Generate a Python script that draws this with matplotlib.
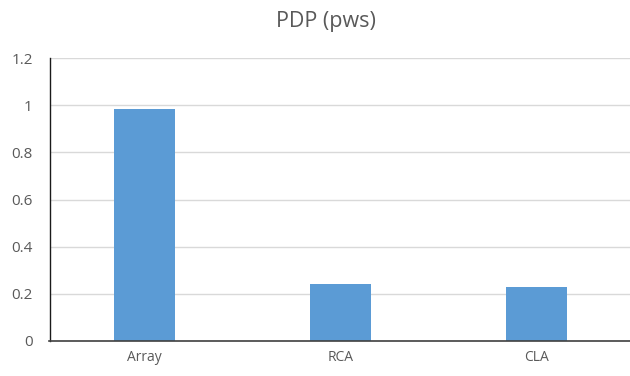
import matplotlib
matplotlib.use("Agg")
import matplotlib.pyplot as plt

categories = ["Array", "RCA", "CLA"]
values = [0.985, 0.24, 0.23]
y_ticks = [0, 0.2, 0.4, 0.6, 0.8, 1.0, 1.2]
y_tick_labels = ["0", "0.2", "0.4", "0.6", "0.8", "1", "1.2"]
title = "PDP (pws)"

plt.rcParams["font.family"] = ["Open Sans", "DejaVu Sans"]

fig = plt.figure(figsize=(6.3, 3.76), dpi=100)
ax = fig.add_axes([49.5 / 630, 35 / 376, 1 - 49.5 / 630, 283 / 376])

x = list(range(len(categories)))
ax.bar(x, values, width=0.31, color="#5B9BD5", zorder=3)

ax.set_xlim(-0.4847, 2.477)
ax.set_ylim(0, 1.2)
ax.set_yticks(y_ticks)
ax.set_yticklabels(y_tick_labels)
ax.set_xticks(x)
ax.set_xticklabels(categories)

ax.grid(axis="y", color="#D9D9D9", linewidth=1.0, zorder=0)
ax.tick_params(axis="y", length=0, pad=12, labelsize=11, labelcolor="#595959")
ax.tick_params(axis="x", length=0, pad=6.5, labelsize=10, labelcolor="#595959")

for side in ("top", "right"):
    ax.spines[side].set_visible(False)
ax.spines["left"].set_color("#1a1a1a")
ax.spines["left"].set_linewidth(1.0)
ax.spines["bottom"].set_color("#404040")
ax.spines["bottom"].set_linewidth(1.2)
ax.spines["bottom"].set_zorder(4)

fig.text(326 / 630, 1 - 22 / 376, title, ha="center", va="center",
         fontsize=15.5, color="#595959")

fig.savefig("out.png", dpi=100, facecolor="white")
